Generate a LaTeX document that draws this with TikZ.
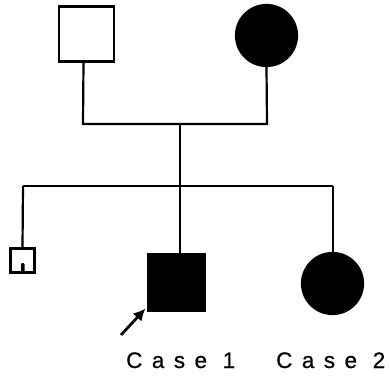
\documentclass[tikz,border=0pt]{standalone}
\usepackage{fontspec}
\setmainfont{Liberation Sans}
\usetikzlibrary{arrows.meta}
\begin{document}
\begin{tikzpicture}[x=1pt,y=-1pt,
  line/.style={line width=2.2pt},
  male/.style={draw,line width=2.2pt,rectangle,minimum size=#1,inner sep=0pt},
  female/.style={draw,line width=2.2pt,circle,minimum size=#1,inner sep=0pt},
  caselabel/.style={anchor=base west,inner sep=0pt,font=\fontsize{22.5}{22.5}\selectfont\addfontfeatures{LetterSpace=42,FakeBold=0.7}}]
\useasboundingbox (0,0) rectangle (390,379);
% parents
\node[male=55pt] (father) at (86.5,34) {};
\node[female=61pt,fill=black] (mother) at (266.5,35.5) {};
\coordinate (fj) at (83,124);
\coordinate (mj) at (267,124);
\coordinate (cj) at (180,124);
\draw[line] ([xshift=-3pt]father.south) -- (fj) -- (mj) -- (mother.south);
% sibship
\coordinate (sj) at (180,186);
\coordinate (sl) at (23,186);
\coordinate (sr) at (333,186);
\draw[line] (cj) -- (sj);
\draw[line] (sl) -- (sr);
% children
\node[male=24pt] (sib) at (22.5,260.5) {};
\node[male=56pt,fill=black] (case1) at (176.5,282.5) {};
\node[female=61pt,fill=black] (case2) at (332.5,283.5) {};
\draw[line] (sl) -- (sib.north);
\draw[line] (sj) -- ([xshift=3.5pt]case1.north);
\draw[line] (sr) -- (case2.north -| sr);
\fill[rounded corners=1pt] (21,263) rectangle (24.5,272);
% proband arrow
\coordinate (atail) at (121,335);
\draw[line width=2.8pt,-{Latex[length=12pt,width=12pt]}] (atail) -- ([shift={(-2pt,3pt)}]case1.south west);
% labels
\node[caselabel] (l1) at (126,368) {Case 1};
\node[caselabel] (l2) at (276,368) {Case 2};
\end{tikzpicture}
\end{document}
